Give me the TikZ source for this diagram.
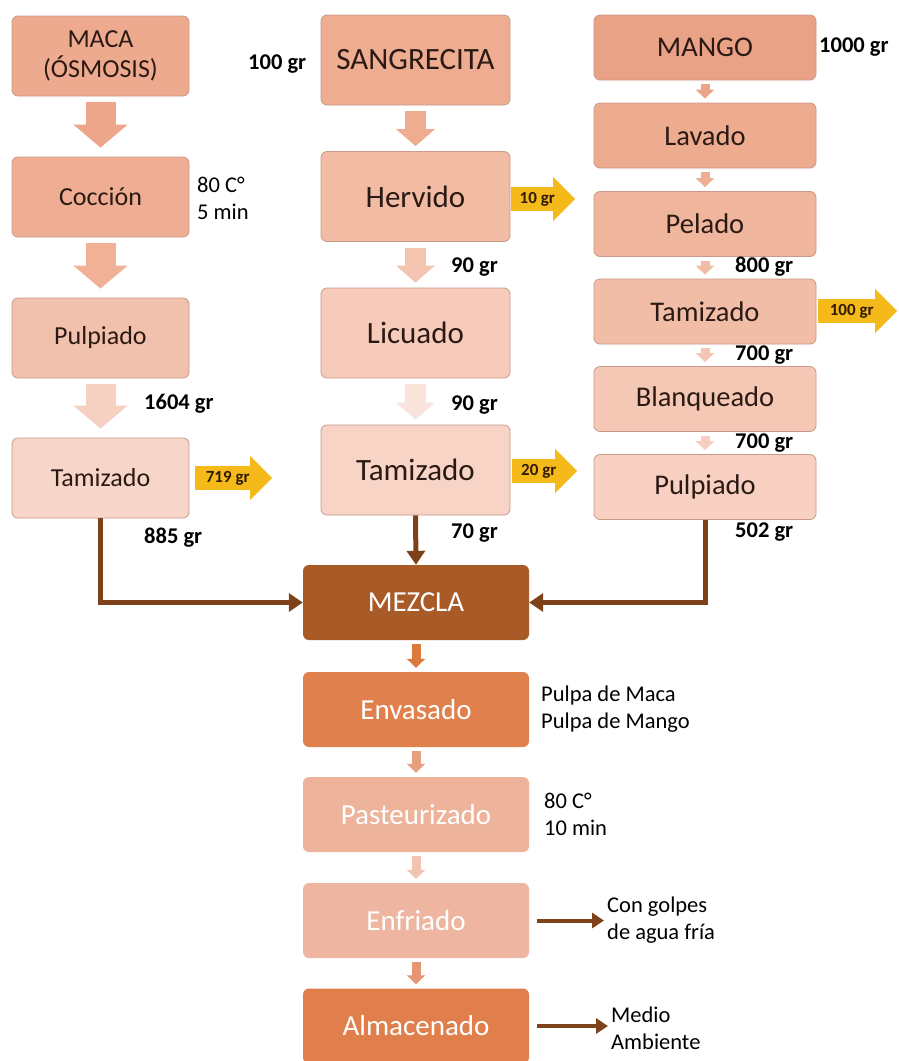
\documentclass[tikz,border=0pt]{standalone}
\usepackage{fontspec}
\setmainfont{Carlito}
\usetikzlibrary{arrows.meta,shapes.arrows}

\definecolor{boxline}{HTML}{C9998A}
\definecolor{boxtext}{HTML}{2B1A14}
\definecolor{feedbrown}{HTML}{7D4219}
\definecolor{wasteyellow}{HTML}{F6B91A}
\definecolor{wastetext}{HTML}{2E1C08}
% box fills
\definecolor{macaA}{HTML}{EEAA8F}
\definecolor{macaB}{HTML}{EFAE93}
\definecolor{macaC}{HTML}{F2C1AD}
\definecolor{macaD}{HTML}{F8D5C9}
\definecolor{sangA}{HTML}{EEAC91}
\definecolor{sangB}{HTML}{F2BBA3}
\definecolor{sangC}{HTML}{F6CBBA}
\definecolor{sangD}{HTML}{F8D4C7}
\definecolor{mangoA}{HTML}{EAA286}
\definecolor{mangoB}{HTML}{EDAB90}
\definecolor{mangoC}{HTML}{F0B59D}
\definecolor{mangoD}{HTML}{F2BDA7}
\definecolor{mangoE}{HTML}{F5C8B6}
\definecolor{mangoF}{HTML}{F7D0C2}
\definecolor{mezclaC}{HTML}{A85B27}
\definecolor{envasC}{HTML}{E0814D}
\definecolor{pasteurC}{HTML}{EDB39B}
\definecolor{enfriC}{HTML}{EEB6A0}
\definecolor{almacC}{HTML}{E07F4B}
% arrow fills
\definecolor{arwA}{HTML}{EDA68A}
\definecolor{arwB}{HTML}{F0B197}
\definecolor{arwC}{HTML}{F6D0C1}
\definecolor{arwD}{HTML}{EEAC90}
\definecolor{arwE}{HTML}{F3C4AF}
\definecolor{arwF}{HTML}{FAE3DA}
\definecolor{arwG}{HTML}{EBA487}
\definecolor{arwH}{HTML}{EEAE94}
\definecolor{arwI}{HTML}{F1BCA6}
\definecolor{arwJ}{HTML}{F4C6B3}
\definecolor{arwK}{HTML}{F6CFC0}
\definecolor{arwL}{HTML}{DC7A3E}
\definecolor{arwM}{HTML}{E7A07F}
\definecolor{arwN}{HTML}{F1C4B1}
\definecolor{arwO}{HTML}{E69573}

\begin{document}
\begin{tikzpicture}[x=1pt,y=-1pt]
\tikzset{
  procbox/.style={rectangle,rounded corners=6pt,draw=boxline,line width=0.8pt,align=center,text=boxtext,inner sep=2pt},
  macabox/.style={procbox,minimum width=177pt,minimum height=80pt,font=\fontsize{26}{30}\selectfont},
  sangbox/.style={procbox,minimum width=189pt,minimum height=90pt,font=\fontsize{31}{36}\selectfont},
  mangobox/.style={procbox,minimum width=222pt,minimum height=65pt,font=\fontsize{28.5}{32}\selectfont},
  finalbox/.style={rectangle,rounded corners=6pt,draw=none,text=white,minimum width=226pt,minimum height=75pt,font=\fontsize{29}{33}\selectfont},
  bigflow/.style={draw=#1,line width=30pt,-{Triangle[length=23pt,width=53pt]},shorten <=6pt,shorten >=9pt},
  midflow/.style={draw=#1,line width=21pt,-{Triangle[length=17pt,width=38pt]},shorten <=6pt,shorten >=5pt},
  smallflow/.style={draw=#1,line width=9pt,-{Triangle[length=9pt,width=18pt]},shorten <=4pt,shorten >=4pt},
  feed/.style={draw=feedbrown,line width=5pt,-{Triangle[length=14pt,width=18pt]}},
  outflow/.style={draw=feedbrown,line width=4pt,-{Triangle[length=12pt,width=15pt]},shorten <=8pt,shorten >=3pt},
  wastearrow/.style={single arrow,fill=wasteyellow,draw=none,minimum height=#1,minimum width=44pt,single arrow head extend=7pt,inner sep=1pt,anchor=west,font=\bfseries\fontsize{17}{19}\selectfont,text=wastetext},
  weight/.style={font=\bfseries\fontsize{22.5}{26}\selectfont,text=black,inner sep=0pt,anchor=west},
  note/.style={font=\fontsize{22.5}{27}\selectfont,text=black,align=left,inner sep=0pt,anchor=west}
}
\fill[white] (0,0) rectangle (899,1061);
\useasboundingbox (0,0) rectangle (899,1061);

% maca
\node[macabox,fill=macaA] (n_maca) at (100.5,56) {MACA\\(ÓSMOSIS)};
\node[macabox,fill=macaB] (n_coccion) at (100.5,197) {Cocción};
\node[macabox,fill=macaC] (n_pulp1) at (100.5,338) {Pulpiado};
\node[macabox,fill=macaD] (n_tam1) at (100.5,478) {Tamizado};
% sangrecita
\node[sangbox,fill=sangA] (n_sang) at (415.5,60) {SANGRECITA};
\node[sangbox,fill=sangB] (n_hervido) at (415.5,196.5) {Hervido};
\node[sangbox,fill=sangC] (n_licuado) at (415.5,333) {Licuado};
\node[sangbox,fill=sangD] (n_tam2) at (415.5,470) {Tamizado};
% mango
\node[mangobox,fill=mangoA] (n_mango) at (705,47.5) {MANGO};
\node[mangobox,fill=mangoB] (n_lavado) at (705,135.5) {Lavado};
\node[mangobox,fill=mangoC] (n_pelado) at (705,224) {Pelado};
\node[mangobox,fill=mangoD] (n_tam3) at (705,311.5) {Tamizado};
\node[mangobox,fill=mangoE] (n_blanq) at (705,399) {Blanqueado};
\node[mangobox,fill=mangoF] (n_pulp3) at (705,487) {Pulpiado};
% common line
\node[finalbox,fill=mezclaC] (n_mezcla) at (416,602.5) {MEZCLA};
\node[finalbox,fill=envasC] (n_envasado) at (416,709.5) {Envasado};
\node[finalbox,fill=pasteurC] (n_pasteur) at (416,814.5) {Pasteurizado};
\node[finalbox,fill=enfriC] (n_enfriado) at (416,920.5) {Enfriado};
\node[finalbox,fill=almacC] (n_almacen) at (416,1026) {Almacenado};

% block arrows
\draw[bigflow=arwA] (n_maca) -- (n_coccion);
\draw[bigflow=arwB] (n_coccion) -- (n_pulp1);
\draw[bigflow=arwC] (n_pulp1) -- (n_tam1);
\draw[midflow=arwD] (n_sang) -- (n_hervido);
\draw[midflow=arwE] (n_hervido) -- (n_licuado);
\draw[midflow=arwF] (n_licuado) -- (n_tam2);
\draw[smallflow=arwG] (n_mango) -- (n_lavado);
\draw[smallflow=arwH] (n_lavado) -- (n_pelado);
\draw[smallflow=arwI] (n_pelado) -- (n_tam3);
\draw[smallflow=arwJ] (n_tam3) -- (n_blanq);
\draw[smallflow=arwK] (n_blanq) -- (n_pulp3);
\draw[smallflow=arwL] (n_mezcla) -- (n_envasado);
\draw[smallflow=arwM] (n_envasado) -- (n_pasteur);
\draw[smallflow=arwN] (n_pasteur) -- (n_enfriado);
\draw[smallflow=arwO] (n_enfriado) -- (n_almacen);

% waste
\node[wastearrow=77pt] (w_tam1) at (195,478) {719 gr};
\node[wastearrow=64pt] (w_hervido) at (511,199) {10 gr};
\node[wastearrow=65pt] (w_tam2) at (512,471) {20 gr};
\node[wastearrow=79pt] (w_tam3) at (818,311) {100 gr};

% feeds into mezcla
\draw[feed] (n_tam1.south) |- (n_mezcla.west);
\draw[feed] (n_tam2.south) -- (n_mezcla.north);
\draw[feed] (n_pulp3.south) |- (n_mezcla.east);

% weights and notes
\node[weight] (g_sang) at (248,64) {100 gr};
\node[weight] (g_mango) at (819,47) {1000 gr};
\node[note] (t_coccion) at (197,198) {80 C°\\5 min};
\node[weight] (g_pulp1) at (144,404) {1604 gr};
\node[weight] (g_tam1) at (144,538) {885 gr};
\node[weight] (g_hervido) at (451,267) {90 gr};
\node[weight] (g_licuado) at (451,405) {90 gr};
\node[weight] (g_tam2) at (451,533) {70 gr};
\node[weight] (g_pelado) at (735,267) {800 gr};
\node[weight] (g_tam3) at (735,355) {700 gr};
\node[weight] (g_blanq) at (735,443) {700 gr};
\node[weight] (g_pulp3) at (735,532) {502 gr};
\node[note] (t_envasado) at (541,709) {Pulpa de Maca\\Pulpa de Mango};
\node[note] (t_pasteur) at (544,814) {80 C°\\10 min};
\node[note] (t_enfriado) at (607,920.5) {Con golpes\\de agua fría};
\node[note] (t_almacen) at (611,1028) {Medio\\Ambiente};
\draw[outflow] (n_enfriado.east) -- (n_enfriado.east -| t_enfriado.west);
\draw[outflow] (n_almacen.east) -- (n_almacen.east -| t_almacen.west);
\end{tikzpicture}
\end{document}
